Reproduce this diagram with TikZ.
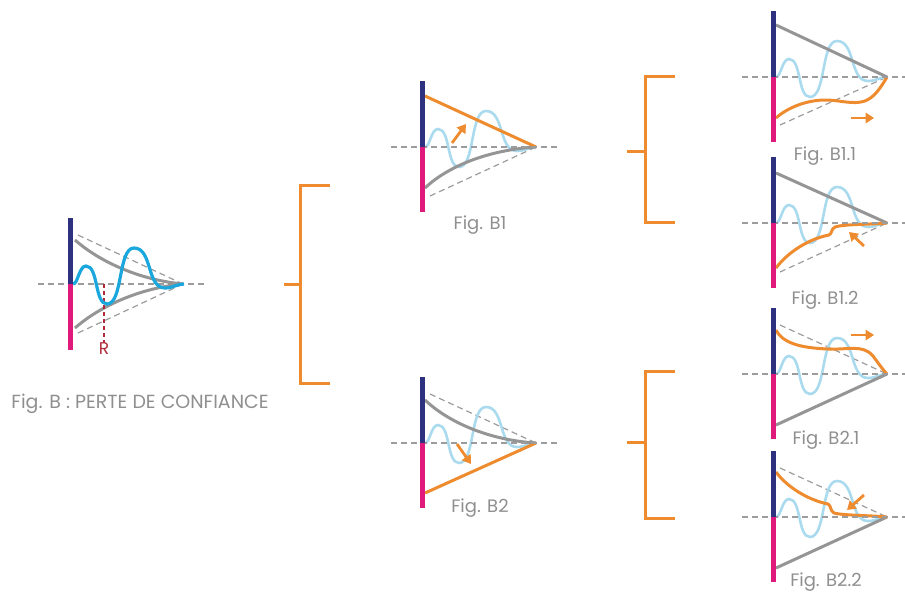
\documentclass[tikz,border=0pt]{standalone}
\usepackage{fontspec}
\setmainfont{Poppins}
\usetikzlibrary{arrows.meta}
\definecolor{navyc}{HTML}{2E3080}
\definecolor{magc}{HTML}{E0197D}
\definecolor{orangec}{HTML}{EE8B2E}
\definecolor{greyln}{HTML}{959595}
\definecolor{dashc}{HTML}{9C9C9C}
\definecolor{cyanc}{HTML}{1AA7DD}
\definecolor{lightb}{HTML}{A9DAEE}
\definecolor{redc}{HTML}{B22A3A}
\definecolor{textc}{HTML}{8F8F8F}
\tikzset{
 barup/.style={navyc, line width=5pt},
 bardn/.style={magc, line width=5pt},
 axisln/.style={dashc, line width=1.2pt, dash pattern=on 6pt off 4pt},
 guide/.style={dashc, line width=1.2pt, dash pattern=on 6pt off 4pt},
 greyc/.style={greyln, line width=3pt},
 orc/.style={orangec, line width=3pt},
 wavelt/.style={lightb, line width=2.6pt},
 wavedk/.style={cyanc, line width=3.2pt},
 brk/.style={orangec, line width=3pt},
 arr/.style={orangec, line width=2.8pt, -{Triangle[width=10.5pt,length=8.5pt]}},
 rline/.style={redc, line width=1.2pt, dash pattern=on 4pt off 3pt},
 lbl/.style={text=textc, font=\fontsize{18}{21}\selectfont, inner sep=0pt},
}
\newcommand\wavedraw[1]{\draw[#1] (3,0) .. controls (8,0) and (9,-18) .. (16,-18) .. controls (28.6,-18) and (24.4,20) .. (37,20) .. controls (53.2,20) and (47.8,-36) .. (64,-36) .. controls (82.6,-36) and (76.4,4) .. (95,4) .. controls (103,4) and (107,0) .. (114,0);}
\newcommand\panelbars[1]{%
 \coordinate (#1-top) at (0,-66);
 \coordinate (#1-mid) at (0,0);
 \coordinate (#1-bot) at (0,65);
 \coordinate (#1-al) at (-31,0);
 \coordinate (#1-ar) at (137,0);
 \coordinate (#1-apex) at (114,0);
 \draw[axisln] (#1-al) -- (#1-ar);
 \draw[barup] (#1-top) -- (#1-mid);
 \draw[bardn] (#1-mid) -- (#1-bot);
}
\begin{document}
\begin{tikzpicture}[x=1pt,y=-1pt]
\useasboundingbox (0,0) rectangle (905,595);

% ---------- main figure B
\begin{scope}[shift={(70,284)}]
 \draw[axisln] (-32,0) -- (137,0);
 \draw[guide] (8,-49) -- (113,0);
 \draw[guide] (8,49) -- (113,0);
 \draw[greyc] (5,-44) .. controls (30,-22) and (70,-4) .. (113,0);
 \draw[greyc] (5,44) .. controls (30,22) and (70,4) .. (113,0);
 \coordinate (r-top) at (34,0);
 \node[lbl, text=redc, font=\fontsize{17}{20}\selectfont] (rlab) at (34,65) {R};
 \draw[rline] (r-top) -- (rlab.north);
 \wavedraw{wavedk}
 \coordinate (m-top) at (0,-66);
 \coordinate (m-mid) at (0,0);
 \coordinate (m-bot) at (0,66);
 \draw[barup] (m-top) -- (m-mid);
 \draw[bardn] (m-mid) -- (m-bot);
\end{scope}
\node[lbl, font=\fontsize{19}{22}\selectfont] (tB) at (140,404) {Fig. B : PERTE DE CONFIANCE};

% ---------- brackets
\coordinate (k0s) at (284,284); \coordinate (k0m) at (300,284);
\coordinate (k0a) at (330,185); \coordinate (k0b) at (300,185);
\coordinate (k0c) at (300,383); \coordinate (k0d) at (330,383);
\draw[brk] (k0s) -- (k0m);
\draw[brk] (k0a) -- (k0b) -- (k0c) -- (k0d);

\coordinate (k1s) at (627,151); \coordinate (k1m) at (645,151);
\coordinate (k1a) at (675,76); \coordinate (k1b) at (645,76);
\coordinate (k1c) at (645,222); \coordinate (k1d) at (675,222);
\draw[brk] (k1s) -- (k1m);
\draw[brk] (k1a) -- (k1b) -- (k1c) -- (k1d);

\coordinate (k2s) at (627,442); \coordinate (k2m) at (645,442);
\coordinate (k2a) at (675,371); \coordinate (k2b) at (645,371);
\coordinate (k2c) at (645,518); \coordinate (k2d) at (675,518);
\draw[brk] (k2s) -- (k2m);
\draw[brk] (k2a) -- (k2b) -- (k2c) -- (k2d);

% ---------- B1
\begin{scope}[shift={(422,147)}]
 \draw[guide] (8,49) -- (114,0);
 \wavedraw{wavelt}
 \draw[greyc] (3,41) .. controls (25,20) and (65,3) .. (114,0);
 \draw[orc] (3,-51) -- (114,0);
 \draw[arr] (30,-4) -- (44,-23);
 \panelbars{b1}
\end{scope}
\node[lbl] (tB1) at (480,225) {Fig. B1};

% ---------- B2
\begin{scope}[shift={(422,443)}]
 \draw[guide] (8,-49) -- (114,0);
 \wavedraw{wavelt}
 \draw[greyc] (3,-43) .. controls (25,-22) and (65,-3) .. (114,0);
 \draw[orc] (3,50) -- (114,0);
 \draw[arr] (35,1) -- (49,21);
 \panelbars{b2}
\end{scope}
\node[lbl] (tB2) at (480,508) {Fig. B2};

% ---------- B1.1
\begin{scope}[shift={(773,77)}]
 \draw[guide] (7,48) -- (114,0);
 \wavedraw{wavelt}
 \draw[greyc] (3,-52) -- (114,0);
 \draw[orc] (3,41) .. controls (15,30) and (35,23) .. (52,23) .. controls (67,23) and (80,28) .. (92,24) .. controls (102,20) and (108,10) .. (114,0);
 \draw[arr] (78,41) -- (101,41);
 \panelbars{b11}
\end{scope}
\node[lbl] (tB11) at (825,156) {Fig. B1.1};

% ---------- B1.2
\begin{scope}[shift={(773,223)}]
 \draw[guide] (7,49) -- (114,0);
 \wavedraw{wavelt}
 \draw[greyc] (3,-50) -- (114,0);
 \draw[orc] (3,45) .. controls (14,30) and (35,16) .. (56,12) .. controls (59,11) and (58,6) .. (62,4) .. controls (70,1) and (100,1.5) .. (114,0);
 \draw[arr] (91,23) -- (76,9);
 \panelbars{b12}
\end{scope}
\node[lbl] (tB12) at (825,300) {Fig. B1.2};

% ---------- B2.1
\begin{scope}[shift={(773,374)}]
 \draw[guide] (7,-49) -- (114,0);
 \wavedraw{wavelt}
 \draw[greyc] (3,51) -- (114,0);
 \draw[orc] (3,-44) .. controls (10,-30) and (30,-26) .. (55,-25) .. controls (75,-24) and (90,-30) .. (100,-18) .. controls (106,-10) and (110,-4) .. (114,0);
 \draw[arr] (78,-39) -- (101,-39);
 \panelbars{b21}
\end{scope}
\node[lbl] (tB21) at (826,440) {Fig. B2.1};

% ---------- B2.2
\begin{scope}[shift={(773,517)}]
 \draw[guide] (7,-49) -- (114,0);
 \wavedraw{wavelt}
 \draw[greyc] (3,51) -- (114,0);
 \draw[orc] (3,-45) .. controls (14,-30) and (35,-17) .. (55,-13) .. controls (58,-12) and (57,-6) .. (61,-4) .. controls (70,-1.5) and (100,-1.5) .. (114,0);
 \draw[arr] (91,-22) -- (74,-7);
 \panelbars{b22}
\end{scope}
\node[lbl] (tB22) at (826,582) {Fig. B2.2};
\end{tikzpicture}
\end{document}
